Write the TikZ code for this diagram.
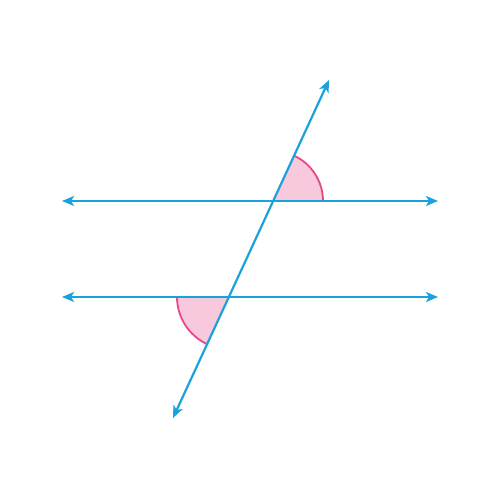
\documentclass[tikz,border=0pt]{standalone}
\usetikzlibrary{arrows.meta,calc}
\definecolor{lineblue}{HTML}{1BA1DC}
\definecolor{angfill}{HTML}{F8C8DC}
\definecolor{angdraw}{HTML}{E8488A}
\tikzset{
  ln/.style={draw=lineblue, line width=2.2pt, {Stealth[length=12pt,width=10pt,inset=3pt]}-{Stealth[length=12pt,width=10pt,inset=3pt]}},
  angarc/.style={draw=angdraw, line width=1.8pt},
}
\begin{document}
\begin{tikzpicture}[x=1pt,y=-1pt]
\useasboundingbox (0,0) rectangle (500,500);
\coordinate (P) at (273,201);
\coordinate (Q) at (229,297);
\coordinate (T1) at (173,418);
\coordinate (T2) at (329,80);
\coordinate (A1) at (62,201);
\coordinate (A2) at (438,201);
\coordinate (B1) at (62,297);
\coordinate (B2) at (438,297);
% angle sectors
\fill[angfill] (P) -- ++(50,0) arc[start angle=0,end angle=-65.24,radius=50] -- cycle;
\draw[angarc] ($(P)+(50,0)$) arc[start angle=0,end angle=-65.24,radius=50];
\fill[angfill] (Q) -- ++(-52,0) arc[start angle=180,end angle=114.76,radius=52] -- cycle;
\draw[angarc] ($(Q)+(-52,0)$) arc[start angle=180,end angle=114.76,radius=52];
% lines
\draw[ln] (A1) -- (A2);
\draw[ln] (B1) -- (B2);
\draw[ln] (T1) -- (T2);
\end{tikzpicture}
\end{document}
